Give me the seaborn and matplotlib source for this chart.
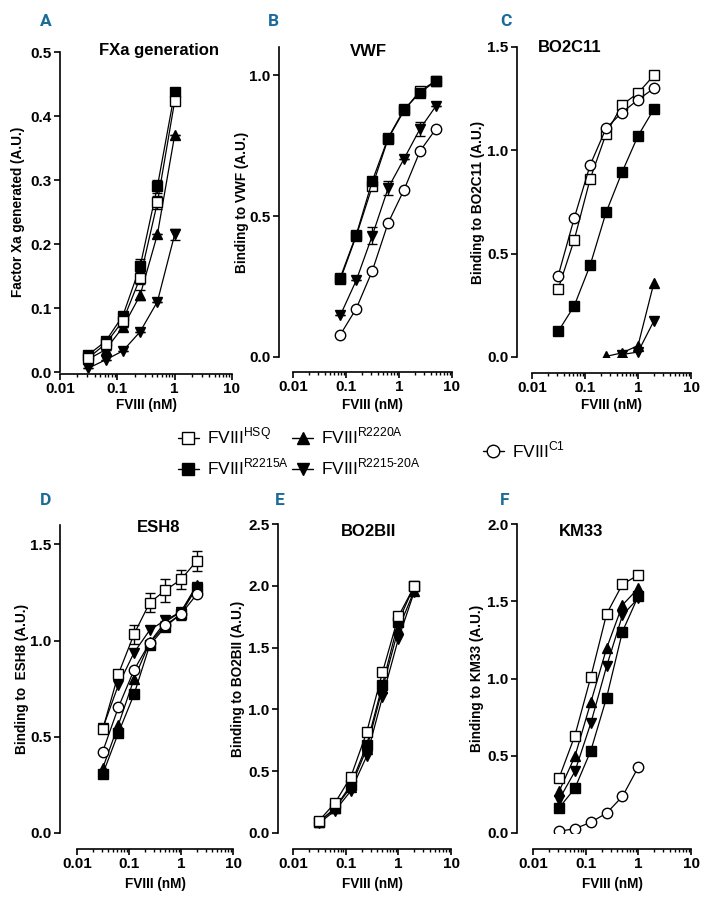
import numpy as np
import pandas as pd
import matplotlib
matplotlib.use("Agg")
import matplotlib.pyplot as plt
from matplotlib.lines import Line2D
from matplotlib.ticker import FixedLocator, FuncFormatter, LogLocator, NullFormatter
import seaborn as sns

sns.set_theme(style="ticks")
plt.rcParams['font.family'] = ['Liberation Sans', 'DejaVu Sans']
plt.rcParams['mathtext.fontset'] = 'custom'
plt.rcParams['mathtext.rm'] = 'Liberation Sans'
plt.rcParams['text.color'] = 'black'
plt.rcParams['legend.labelcolor'] = 'black'

# ---------------- data ----------------
x6 = [0.03125, 0.0625, 0.125, 0.25, 0.5, 1]
x7 = [0.03125, 0.0625, 0.125, 0.25, 0.5, 1, 2]
xB = [0.078125, 0.15625, 0.3125, 0.625, 1.25, 2.5, 5]

# A: FXa generation
A_R2215A = [0.027, 0.048, 0.088, 0.165, 0.290, 0.437]
A_R2215A_err = [0, 0, 0.005, 0.012, 0.010, 0]
A_R2220A = [0.020, 0.035, 0.070, 0.120, 0.215, 0.370]
A_R2220A_err = [0, 0, 0, 0.008, 0, 0]
A_R2215_20A = [0.006, 0.019, 0.033, 0.063, 0.110, 0.215]
A_R2215_20A_err = [0, 0, 0, 0, 0, 0.008]
A_HSQ = [0.022, 0.044, 0.080, 0.147, 0.265, 0.423]
A_HSQ_err = [0, 0, 0, 0.010, 0.010, 0]

# B: VWF
B_HSQ = [0.275, 0.430, 0.605, 0.775, 0.875, 0.945, 0.980]
B_R2215A = [0.282, 0.434, 0.624, 0.778, 0.879, 0.938, 0.980]
B_R2215_20A = [0.148, 0.272, 0.430, 0.600, 0.704, 0.810, 0.891]
B_R2215_20A_err = [0, 0, 0.030, 0.025, 0, 0.025, 0]
B_C1 = [0.079, 0.172, 0.305, 0.476, 0.594, 0.731, 0.810]

# C: BO2C11
C_HSQ = [0.330, 0.566, 0.861, 1.080, 1.220, 1.277, 1.363]
C_C1 = [0.394, 0.671, 0.929, 1.107, 1.183, 1.245, 1.300]
C_R2215A = [0.124, 0.247, 0.444, 0.700, 0.894, 1.070, 1.200]
xC_R2220A = [0.25, 0.5, 1, 2]
C_R2220A = [0.003, 0.020, 0.055, 0.360]
xC_R2215_20A = [0.5, 1, 2]
C_R2215_20A = [0.012, 0.024, 0.175]

# D: ESH8
D_R2215A = [0.306, 0.520, 0.720, 0.976, 1.071, 1.140, 1.275]
D_R2220A = [0.337, 0.562, 0.800, 0.990, 1.097, 1.149, 1.287]
D_R2215_20A = [0.544, 0.769, 0.937, 1.054, 1.106, 1.149, 1.280]
D_C1 = [0.423, 0.653, 0.847, 0.988, 1.080, 1.137, 1.239]
D_C1_err = [0, 0, 0, 0, 0.02, 0.03, 0]
D_HSQ = [0.539, 0.826, 1.033, 1.196, 1.261, 1.317, 1.413]
D_HSQ_err = [0.01, 0.01, 0.05, 0.05, 0.06, 0.05, 0.05]

# E: BO2BII
E_R2215_20A = [0.08, 0.18, 0.34, 0.62, 1.10, 1.57, 1.95]
E_R2220A = [0.09, 0.20, 0.37, 0.68, 1.17, 1.65, 1.96]
E_R2215A = [0.09, 0.20, 0.39, 0.71, 1.20, 1.71, 2.00]
E_HSQ = [0.10, 0.243, 0.453, 0.814, 1.30, 1.752, 1.995]

# F: KM33
F_HSQ = [0.356, 0.631, 1.009, 1.418, 1.610, 1.670]
F_R2220A = [0.269, 0.496, 0.845, 1.196, 1.476, 1.584]
F_R2215_20A = [0.216, 0.399, 0.710, 1.080, 1.410, 1.520]
F_R2215A = [0.162, 0.290, 0.532, 0.877, 1.304, 1.534]
F_C1 = [0.011, 0.028, 0.069, 0.129, 0.237, 0.427]

variants = ["HSQ", "R2215A", "R2220A", "R2215-20A", "C1"]
titles = ["FXa generation", "VWF", "BO2C11", "ESH8", "BO2BII", "KM33"]
ylabels = ["Factor Xa generated (A.U.)", "Binding to VWF (A.U.)", "Binding to BO2C11 (A.U.)",
           "Binding to  ESH8 (A.U.)", "Binding to BO2BII (A.U.)", "Binding to KM33 (A.U.)"]
letters = ["A", "B", "C", "D", "E", "F"]
xlabel = "FVIII (nM)"
xticks = [0.01, 0.1, 1, 10]
xticklabels = ["0.01", "0.1", "1", "10"]

# ---------------- styles ----------------
STY = {
    "HSQ": dict(marker="s", mfc="white", ms=7.0),
    "R2215A": dict(marker="s", mfc="black", ms=6.5),
    "R2220A": dict(marker="^", mfc="black", ms=7.0),
    "R2215-20A": dict(marker="v", mfc="black", ms=7.0),
    "C1": dict(marker="o", mfc="white", ms=7.5),
}

W, H = 703, 906
fig = plt.figure(figsize=(W / 100, H / 100), dpi=100)


def add_ax(l, r, t, b):
    return fig.add_axes([l / W, 1 - b / H, (r - l) / W, (b - t) / H])


def draw(ax, x, y, var, err=None):
    st = STY[var]
    sns.lineplot(x=x, y=y, ax=ax, color="black", lw=0.9, marker=st["marker"],
                 markersize=st["ms"], markerfacecolor=st["mfc"], markeredgecolor="black",
                 markeredgewidth=1.0, estimator=None, sort=False, legend=False, zorder=3)
    if err is not None:
        ax.errorbar(x, y, yerr=err, fmt="none", ecolor="black", elinewidth=1.0,
                    capsize=3.5, capthick=1.0, zorder=2)


panels = [
    # (l, r, t, b, ylim, yticks, left_off_px, bottom_off_px)
    (60, 232, 52, 372, (0, 0.5), [0, 0.1, 0.2, 0.3, 0.4, 0.5], 0, 2),
    (293, 452, 47, 357, (0, 1.1), [0, 0.5, 1.0], 14, 15),
    (532, 691, 47, 357, (0, 1.5), [0, 0.5, 1.0, 1.5], 15, 16),
    (77, 233, 525, 833, (0, 1.6), [0, 0.5, 1.0, 1.5], 17, 16),
    (293, 451, 524, 833, (0, 2.5), [0, 0.5, 1.0, 1.5, 2.0, 2.5], 15, 16),
    (533, 691, 524, 833, (0, 2.0), [0, 0.5, 1.0, 1.5, 2.0], 16, 16),
]

axes = []
for (l, r, t, b, yl, yt, lo, bo) in panels:
    ax = add_ax(l, r, t, b)
    ax.set_xscale("log")
    ax.set_xlim(0.01, 10)
    ax.set_ylim(*yl)
    axes.append(ax)

# panel A
ax = axes[0]
draw(ax, x6, A_R2215A, "R2215A", A_R2215A_err)
draw(ax, x6, A_R2220A, "R2220A", A_R2220A_err)
draw(ax, x6, A_R2215_20A, "R2215-20A", A_R2215_20A_err)
draw(ax, x6, A_HSQ, "HSQ", A_HSQ_err)
# panel B
ax = axes[1]
draw(ax, xB, B_C1, "C1")
draw(ax, xB, B_R2215_20A, "R2215-20A", B_R2215_20A_err)
draw(ax, xB, B_HSQ, "HSQ")
draw(ax, xB, B_R2215A, "R2215A")
# panel C
ax = axes[2]
draw(ax, x7, C_R2215A, "R2215A")
draw(ax, xC_R2220A, C_R2220A, "R2220A")
draw(ax, xC_R2215_20A, C_R2215_20A, "R2215-20A")
draw(ax, x7, C_HSQ, "HSQ")
draw(ax, x7, C_C1, "C1")
# panel D
ax = axes[3]
draw(ax, x7, D_R2215A, "R2215A")
draw(ax, x7, D_R2220A, "R2220A")
draw(ax, x7, D_R2215_20A, "R2215-20A")
draw(ax, x7, D_HSQ, "HSQ", D_HSQ_err)
draw(ax, x7, D_C1, "C1", D_C1_err)
# panel E
ax = axes[4]
draw(ax, x7, E_R2215_20A, "R2215-20A")
draw(ax, x7, E_R2220A, "R2220A")
draw(ax, x7, E_R2215A, "R2215A")
draw(ax, x7, E_HSQ, "HSQ")
# panel F
ax = axes[5]
draw(ax, x6, F_C1, "C1")
draw(ax, x6, F_R2215A, "R2215A")
draw(ax, x6, F_R2215_20A, "R2215-20A")
draw(ax, x6, F_R2220A, "R2220A")
draw(ax, x6, F_HSQ, "HSQ")

PT = 72 / 100  # px -> pt
fmt_y = FuncFormatter(lambda v, p: f"{v:.1f}")
for i, (ax, (l, r, t, b, yl, yt, lo, bo)) in enumerate(zip(axes, panels)):
    sns.despine(ax=ax)
    ax.spines["left"].set_position(("outward", lo * PT))
    ax.spines["bottom"].set_position(("outward", bo * PT))
    for s in ("left", "bottom"):
        ax.spines[s].set_linewidth(1.2)
        ax.spines[s].set_color("black")
    ax.xaxis.set_major_locator(FixedLocator(xticks))
    ax.xaxis.set_major_formatter(FuncFormatter(lambda v, p: xticklabels[xticks.index(v)] if v in xticks else ""))
    ax.xaxis.set_minor_locator(LogLocator(base=10, subs=np.arange(2, 10)))
    ax.xaxis.set_minor_formatter(NullFormatter())
    ax.yaxis.set_major_locator(FixedLocator(yt))
    ax.yaxis.set_major_formatter(fmt_y)
    ax.tick_params(axis="both", which="major", length=4, width=1.2, color="black",
                   labelsize=11, pad=2, labelcolor="black")
    ax.tick_params(axis="x", which="minor", length=2.5, width=1.0, color="black")
    for lab in ax.get_xticklabels() + ax.get_yticklabels():
        lab.set_fontweight("bold")
    ax.set_xlabel("")
    ax.set_ylabel("")

# axis labels, titles and panel letters (pixel positions)
title_pos = [(159, 50), (368, 52), (570, 48), (159, 527), (369, 532), (581, 532)]
ylab_x = [18, 242, 478, 22, 238, 477]
letter_pos = [(40, 22), (268, 22), (500, 22), (40, 500), (275, 500), (500, 500)]
xlab_y = [405, 405, 405, 884, 884, 884]
for i, (ax, (l, r, t, b, yl, yt, lo, bo)) in enumerate(zip(axes, panels)):
    tx, ty = title_pos[i]
    fig.text(tx / W, 1 - ty / H, titles[i], ha="center", va="center", fontsize=12,
             fontweight="bold", color="black")
    fig.text(ylab_x[i] / W, 1 - ((t + b) / 2) / H, ylabels[i], rotation=90, ha="center",
             va="center", fontsize=9.8, fontweight="bold", color="black")
    fig.text(((l + r) / 2) / W, 1 - xlab_y[i] / H, xlabel, ha="center", va="center",
             fontsize=9.8, fontweight="bold", color="black")
    lx, ly = letter_pos[i]
    fig.text(lx / W, 1 - ly / H, letters[i], ha="left", va="center", fontsize=12.5,
             fontweight="bold", color="#1b6b99", family=["Roboto", "DejaVu Sans"],
             fontstretch="condensed")

# legend
def handle(var):
    st = STY[var]
    return Line2D([], [], color="black", lw=1.0, marker=st["marker"], markersize=st["ms"] + 1.5,
                  markerfacecolor=st["mfc"], markeredgecolor="black", markeredgewidth=1.0)

leg_labels = {
    "HSQ": r"FVIII$^{\mathregular{HSQ}}$",
    "R2215A": r"FVIII$^{\mathregular{R2215A}}$",
    "R2220A": r"FVIII$^{\mathregular{R2220A}}$",
    "R2215-20A": r"FVIII$^{\mathregular{R2215\text{-}20A}}$",
    "C1": r"FVIII$^{\mathregular{C1}}$",
}
order = ["HSQ", "R2215A", "R2220A", "R2215-20A"]
leg1 = fig.legend([handle(v) for v in order], [leg_labels[v] for v in order], ncol=2,
                  loc="center left", bbox_to_anchor=(178 / W, 1 - 452 / H), frameon=False,
                  fontsize=12.5, handlelength=1.2, handletextpad=0.45, columnspacing=0.2,
                  labelspacing=0.6, borderpad=0, borderaxespad=0, labelcolor="black")
leg2 = fig.legend([handle("C1")], [leg_labels["C1"]], loc="center left",
                  bbox_to_anchor=(483 / W, 1 - 450 / H), frameon=False, fontsize=12.5,
                  handlelength=1.2, handletextpad=0.45, borderpad=0, borderaxespad=0,
                  labelcolor="black")

fig.savefig("out.png", dpi=100)
